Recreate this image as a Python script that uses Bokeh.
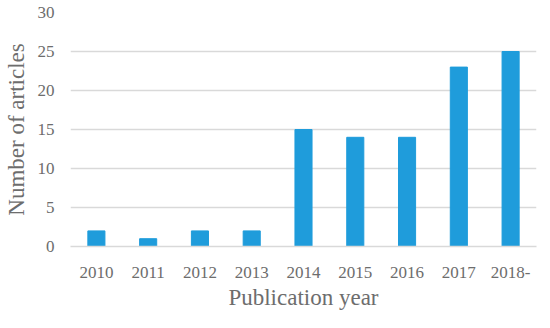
from bokeh.plotting import figure
from bokeh.models import ColumnDataSource, Range1d, FactorRange, SingleIntervalTicker
from bokeh.embed import file_html
from bokeh.resources import INLINE

years = ["2010", "2011", "2012", "2013", "2014", "2015", "2016", "2017", "2018-"]
articles = [2, 1, 2, 2, 15, 14, 14, 23, 25]

FONT = "Liberation Serif"
TXT = "#6d6d6d"
GRID = "#d9d9d9"
BAR = "#1f9cdb"

src = ColumnDataSource(dict(year=years, n=articles))
p = figure(x_range=FactorRange(*years), y_range=Range1d(0, 30),
           frame_width=466, frame_height=234, output_backend="svg", toolbar_location=None,
           min_border_left=66, min_border_right=2, min_border_top=12, min_border_bottom=66)
p.vbar(x="year", top="n", width=0.33, source=src, color=BAR)

p.outline_line_color = None
p.background_fill_color = "white"
p.border_fill_color = "white"
p.x_range.range_padding = 0
p.xgrid.grid_line_color = None
p.ygrid.grid_line_color = GRID
p.ygrid.grid_line_width = 1.3
p.yaxis.ticker = SingleIntervalTicker(interval=5)

p.yaxis.axis_line_color = None
p.yaxis.major_tick_line_color = None
p.yaxis.minor_tick_line_color = None
p.xaxis.axis_line_color = GRID
p.xaxis.axis_line_width = 1.3
p.xaxis.major_tick_line_color = None
for ax in (p.xaxis, p.yaxis):
    ax.major_tick_out = 0
    ax.major_tick_in = 0
    ax.minor_tick_out = 0
    ax.minor_tick_in = 0
    ax.major_label_text_font = FONT
    ax.major_label_text_font_size = "17px"
    ax.major_label_text_color = TXT
    ax.axis_label_text_font = FONT
    ax.axis_label_text_font_size = "23px"
    ax.axis_label_text_color = TXT
    ax.axis_label_text_font_style = "normal"

p.xaxis.axis_label = "Publication year"
p.yaxis.axis_label = "Number of articles"
p.xaxis.major_label_standoff = 20
p.yaxis.major_label_standoff = 16
p.xaxis.axis_label_standoff = 4
p.yaxis.axis_label_standoff = 6

open("out.html", "w").write(file_html(p, INLINE))
